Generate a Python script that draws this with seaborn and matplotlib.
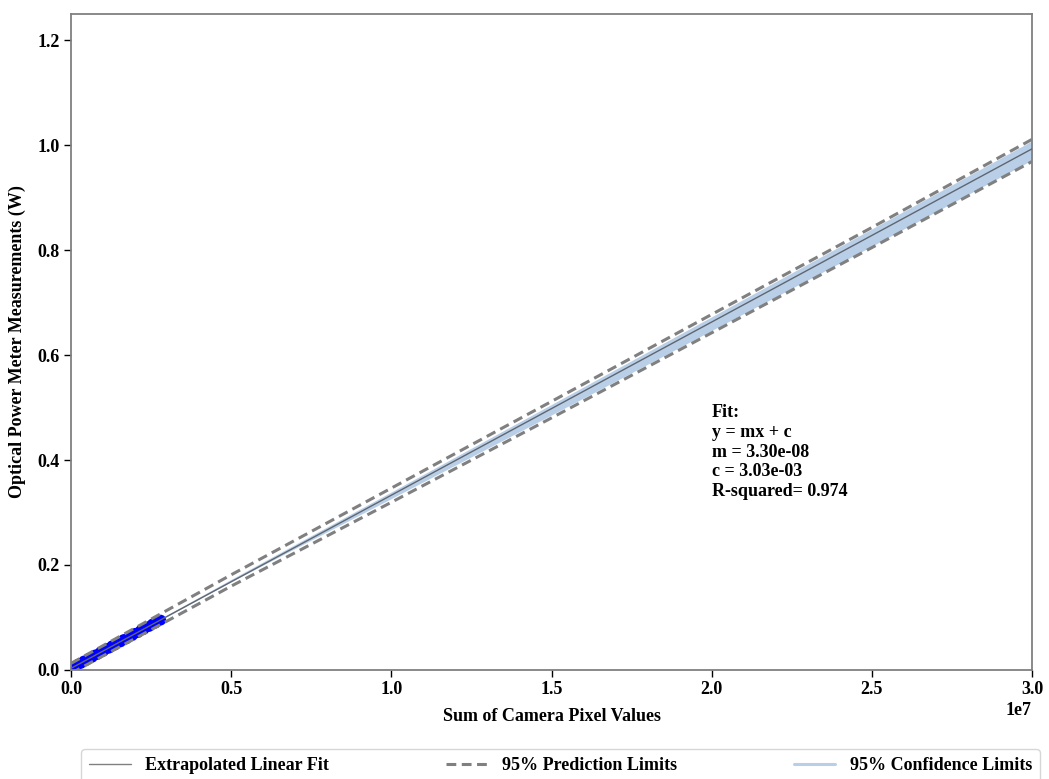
import numpy as np
import pandas as pd
import matplotlib
matplotlib.use("Agg")
import matplotlib.pyplot as plt
import seaborn as sns

# Calibration measurements: summed camera pixel values vs optical power meter (W)
cam_sum = np.array([0.08, 0.15, 0.22, 0.31, 0.40, 0.48, 0.57, 0.66, 0.75, 0.83,
                    0.92, 1.01, 1.10, 1.19, 1.28, 1.37, 1.46, 1.55, 1.64, 1.73,
                    1.82, 1.91, 2.00, 2.09, 2.18, 2.27, 2.36, 2.45, 2.54, 2.63,
                    2.72, 2.80]) * 1e6
power_w = [0.0062, 0.0074, 0.0110, 0.0125, 0.0170, 0.0181, 0.0226, 0.0241,
           0.0285, 0.0296, 0.0342, 0.0356, 0.0401, 0.0416, 0.0460, 0.0474,
           0.0519, 0.0535, 0.0579, 0.0593, 0.0638, 0.0653, 0.0697, 0.0712,
           0.0757, 0.0771, 0.0816, 0.0831, 0.0875, 0.0890, 0.0935, 0.0950]

# Linear fit parameters
slope = 3.30e-08
intercept = 3.03e-03
r_squared = 0.974

# Band limits evaluated along the extrapolation range
band_x = [0.0, 0.5e7, 1.0e7, 1.5e7, 2.0e7, 2.5e7, 3.0e7]
pred_upper = [0.0125, 0.1813, 0.3465, 0.5117, 0.6775, 0.8432, 1.0111]
pred_lower = [-0.0065, 0.1597, 0.3195, 0.4803, 0.6425, 0.8048, 0.9689]
conf_upper = [0.0035, 0.1727, 0.3393, 0.5060, 0.6730, 0.8405, 1.0083]
conf_lower = [0.0025, 0.1683, 0.3267, 0.4860, 0.6470, 0.8075, 0.9717]

FS = 13

sns.set_theme(style="white")
plt.rcParams["font.family"] = ["Liberation Serif", "DejaVu Serif"]
plt.rcParams["font.weight"] = "bold"
plt.rcParams["axes.labelweight"] = "bold"
plt.rcParams["text.color"] = "black"
plt.rcParams["axes.labelcolor"] = "black"
plt.rcParams["xtick.color"] = "black"
plt.rcParams["ytick.color"] = "black"

fig = plt.figure(figsize=(10.49, 7.79), dpi=100)
ax = fig.add_axes([0.0677, 0.14, 0.9161, 0.842])

fit_x = np.array([0.0, 3.0e7])
fit_df = pd.DataFrame({"x": fit_x, "y": slope * fit_x + intercept})
band_df = pd.DataFrame({"x": band_x, "pu": pred_upper, "pl": pred_lower,
                        "cu": conf_upper, "cl": conf_lower})
data_df = pd.DataFrame({"x": cam_sum, "y": power_w})

dash = (0, (3.2, 1.8))
ax.fill_between(band_df["x"], band_df["cl"], band_df["cu"],
                color="#b9cfe7", lw=0, zorder=1)
sns.scatterplot(data=data_df, x="x", y="y", ax=ax, color="#0000ff",
                s=60, edgecolor="none", zorder=2)
sns.lineplot(data=fit_df, x="x", y="y", ax=ax, color="#5f6670", lw=1.0, zorder=3)
sns.lineplot(data=band_df, x="x", y="pu", ax=ax, color="#808080", lw=2.2,
             linestyle=dash, zorder=3)
sns.lineplot(data=band_df, x="x", y="pl", ax=ax, color="#808080", lw=2.2,
             linestyle=dash, zorder=3)

ax.set_xlim(0, 3.0e7)
ax.set_ylim(0, 1.25)
ax.set_yticks([0.0, 0.2, 0.4, 0.6, 0.8, 1.0, 1.2])
ax.set_xlabel("Sum of Camera Pixel Values", fontsize=FS, fontweight="bold", labelpad=7)
ax.set_ylabel("Optical Power Meter Measurements (W)", fontsize=FS, fontweight="bold", labelpad=8)
ax.tick_params(axis="both", labelsize=FS, direction="out", length=5, width=1,
               color="black", bottom=True, left=True, pad=3)
for lab in ax.get_xticklabels() + ax.get_yticklabels():
    lab.set_fontweight("bold")
ax.xaxis.get_offset_text().set_fontsize(FS)
ax.xaxis.get_offset_text().set_fontweight("bold")
for sp in ax.spines.values():
    sp.set_color("#808080")
    sp.set_linewidth(1.3)

ax.text(2.0e7, 0.506,
        f"Fit:\ny = mx + c\nm = {slope:.2e}\nc = {intercept:.2e}\nR-squared= {r_squared:.3f}",
        fontsize=FS, fontweight="bold", va="top", ha="left", linespacing=1.2)

handles = [
    plt.Line2D([], [], color="#808080", lw=1.0),
    plt.Line2D([], [], color="#808080", lw=2.2, linestyle=dash),
    plt.Line2D([], [], color="#b9cfe7", lw=2.2),
]
labels = ["Extrapolated Linear Fit", "95% Prediction Limits", "95% Confidence Limits"]
leg = ax.legend(handles, labels, loc="upper left", ncol=3, mode="expand",
                bbox_to_anchor=(0.0104, -0.1704, 0.998, 0.05), fontsize=FS,
                frameon=True, fancybox=True, borderaxespad=0, handlelength=2.3,
                borderpad=0.45)
leg.get_frame().set_edgecolor("#cccccc")
for t in leg.get_texts():
    t.set_fontweight("bold")

fig.savefig("out.png", dpi=100)
